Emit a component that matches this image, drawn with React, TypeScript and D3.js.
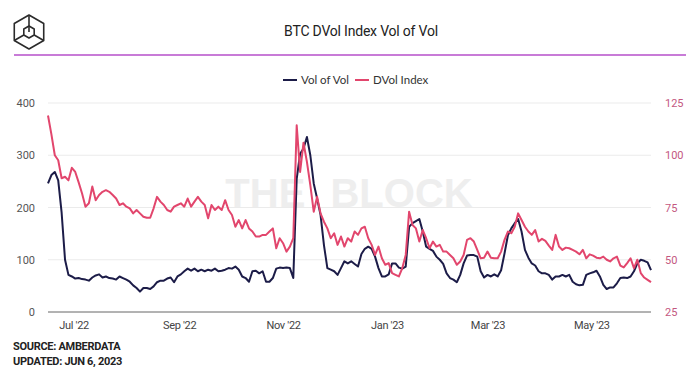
import React, { useEffect, useRef } from "react";
import * as d3 from "d3";

// daily-ish samples, every 2 days from Jun 16 2022
const startDate = new Date(2022, 5, 16);
const stepDays = 2;

const volOfVol = [
  246, 262, 268, 252, 190, 100, 71, 68, 64, 65, 63, 62, 60, 66, 70, 72, 66, 68, 65, 64,
  62, 68, 65, 62, 58, 51, 46, 39, 46, 46, 44, 49, 57, 60, 60, 64, 66, 57, 68, 72,
  78, 83, 79, 83, 78,
  81, 78, 81, 79, 83, 78, 79, 81, 84, 83, 87, 81, 68, 65, 58, 78, 79, 74, 78, 58,
  58, 65, 83, 85, 84, 85, 84, 65, 255, 303, 313, 335, 300, 246, 217, 186, 128, 84, 81, 78,
  71, 84, 97, 93,
  97, 92, 87, 111, 121, 125, 121, 106, 84, 68, 68, 72, 93, 93, 85, 83, 87, 163, 170, 174,
  178, 154, 125, 121, 117, 106, 100, 92, 74, 65, 62, 57, 71, 93, 108, 109, 109, 106, 78, 66,
  71, 68, 72, 68, 80,
  112, 147, 160, 170, 178, 154, 119, 104, 93, 89, 78, 74, 74, 71, 62, 68, 68, 71, 68, 71,
  58, 53, 51, 52, 71, 74, 76, 79, 68, 52, 44, 47, 47, 55, 65, 66, 65, 68, 78, 93,
  100, 98, 95, 80,
];

const dvolIndex = [
  119, 110, 100, 97.6, 89, 89.7, 88, 94, 92, 87, 81.7, 75.4, 77, 85, 78.5, 81, 82.5, 83.3, 82.5, 81,
  79.3, 76.2, 77, 75.4, 74.6, 72.2, 73.8, 72.2, 70.6, 70.1, 70.1, 74.6, 80.1, 77.8, 76.2, 73.8, 73, 75.4, 76.2, 77,
  75.4, 79.3, 75.4, 77.8, 80.1,
  77.8, 76.2, 69.8, 76.2, 73.8, 75.4, 73.8, 78.5, 73.8, 71.4, 65.8, 69, 65, 69, 65, 63.5, 61.1, 61.1, 61.9, 61.9,
  63.5, 65, 55.5, 60.3, 57.9, 53.9, 56.3, 60.3, 114.3, 92, 106, 96.8, 85.7, 73, 80.1, 72.2, 68.2, 65, 60.3, 62.7,
  57.1, 61.1, 56.3, 60.3,
  58.7, 63.5, 61.9, 65, 65.8, 60.3, 57.1, 52.3, 56.3, 50.7, 47.6, 48.4, 43.6, 42.8, 42, 46, 52.3, 73, 66.6, 65,
  58.7, 64.2, 60.3, 55.5, 58.7, 56.3, 57.1, 53.9, 53.9, 52.3, 50.7, 47.6, 49.2, 52.3, 59.5, 60.3, 58.7, 54.7, 50.7, 51,
  53.9, 51, 50.7, 50.7, 53.9,
  59.5, 63.5, 62.7, 65.8, 72.2, 69, 65.8, 63.5, 61.9, 64.2, 58.7, 60, 59, 56.8, 54.7, 61.9, 56.3, 54.7, 55.8, 55.5,
  54.7, 53.9, 52.6, 54.7, 50.7, 52.6, 52, 51, 50.7, 51.5, 50, 49.2, 50.7, 51.5, 47.2, 46.3, 48.4, 50.7, 46, 50,
  43.6, 41.5, 40.4, 39.3,
];

const leftTicks = [0, 100, 200, 300, 400];
const rightTicks = [25, 50, 75, 100, 125];
const xTickDates = [
  new Date(2022, 6, 1),
  new Date(2022, 8, 1),
  new Date(2022, 10, 1),
  new Date(2023, 0, 1),
  new Date(2023, 2, 1),
  new Date(2023, 4, 1),
];
const xTickLabels = ["Jul '22", "Sep '22", "Nov '22", "Jan '23", "Mar '23", "May '23"];

const NAVY = "#1c1c48";
const PINK = "#e2466d";

const App = () => {
  const svgRef = useRef(null);

  useEffect(() => {
    const svg = d3.select(svgRef.current);
    const width = 700;
    const height = 367;
    const margin = { top: 103, right: 49, bottom: 55, left: 48 };

    svg.selectAll("*").remove();

    const dates = volOfVol.map((_, i) => d3.timeDay.offset(startDate, i * stepDays));

    const x = d3.scaleTime()
      .domain([dates[0], dates[dates.length - 1]])
      .range([margin.left, width - margin.right]);

    const yLeft = d3.scaleLinear()
      .domain([0, 400])
      .range([height - margin.bottom, margin.top]);

    const yRight = d3.scaleLinear()
      .domain([25, 125])
      .range([height - margin.bottom, margin.top]);

    svg.append("rect").attr("width", width).attr("height", height).attr("fill", "#fff");

    // logo
    const cx = 29, cy = 32, R = 17, r = 6;
    const hex = (rad) => d3.range(6).map(k => {
      const a = (Math.PI / 3) * k - Math.PI / 2;
      return [cx + rad * Math.cos(a), cy + rad * Math.sin(a)];
    });
    const outer = hex(R), inner = hex(r);
    const logo = svg.append("g").attr("fill", "none").attr("stroke", "#2b2b2b").attr("stroke-width", 1.6)
      .attr("stroke-linejoin", "round");
    logo.append("path").attr("d", "M" + outer.join("L") + "Z");
    logo.append("path").attr("d", "M" + inner.join("L") + "Z");
    outer.forEach((p, k) => {
      if (k % 2 === 0) logo.append("line")
        .attr("x1", p[0]).attr("y1", p[1]).attr("x2", inner[k][0]).attr("y2", inner[k][1]);
    });
    logo.append("line").attr("x1", inner[0][0]).attr("y1", inner[0][1]).attr("x2", cx).attr("y2", cy);

    // title
    svg.append("text")
      .attr("x", 361).attr("y", 36)
      .attr("text-anchor", "middle")
      .attr("font-family", "Roboto, sans-serif")
      .attr("font-size", 14)
      .attr("letter-spacing", -0.2)
      .attr("fill", "#222")
      .text("BTC DVol Index Vol of Vol");

    svg.append("line")
      .attr("x1", 14).attr("x2", 686).attr("y1", 55).attr("y2", 55)
      .attr("stroke", "#b64fca").attr("stroke-width", 1.5);

    // legend
    const legend = [
      { name: "Vol of Vol", color: NAVY, x: 283 },
      { name: "DVol Index", color: PINK, x: 355 },
    ];
    legend.forEach(l => {
      svg.append("line")
        .attr("x1", l.x).attr("x2", l.x + 14).attr("y1", 80).attr("y2", 80)
        .attr("stroke", l.color).attr("stroke-width", 2);
      svg.append("text")
        .attr("x", l.x + 18).attr("y", 84)
        .attr("font-family", "Lato, sans-serif")
        .attr("font-size", 11.5)
        .attr("fill", "#333")
        .text(l.name);
    });

    // watermark
    svg.append("text")
      .attr("x", 349).attr("y", 207)
      .attr("text-anchor", "middle")
      .attr("font-family", "'Liberation Sans', Arial, sans-serif")
      .attr("font-weight", "bold")
      .attr("font-size", 40)
      .attr("word-spacing", 14)
      .attr("fill", "#eeeeee")
      .text("THE BLOCK");

    // grid
    svg.append("g")
      .selectAll("line")
      .data(leftTicks.filter(t => t > 0))
      .join("line")
      .attr("x1", margin.left).attr("x2", width - margin.right)
      .attr("y1", d => yLeft(d)).attr("y2", d => yLeft(d))
      .attr("stroke", "#ebebeb").attr("stroke-width", 1);

    // left axis
    const gl = svg.append("g")
      .attr("transform", `translate(${margin.left}, 0)`)
      .call(d3.axisLeft(yLeft).tickValues(leftTicks).tickSize(0).tickPadding(13));
    gl.select(".domain").remove();
    gl.selectAll("text")
      .attr("font-family", "Roboto, sans-serif").attr("font-size", 11).attr("fill", "#555");

    // right axis
    const gr = svg.append("g")
      .attr("transform", `translate(${width - margin.right}, 0)`)
      .call(d3.axisRight(yRight).tickValues(rightTicks).tickSize(0).tickPadding(14));
    gr.select(".domain").remove();
    gr.selectAll("text")
      .attr("font-family", "Roboto, sans-serif").attr("font-size", 11).attr("fill", "#c4587f");

    // x axis
    const gx = svg.append("g")
      .attr("transform", `translate(0, ${height - margin.bottom})`)
      .call(d3.axisBottom(x).tickValues(xTickDates).tickFormat((_, i) => xTickLabels[i]).tickSize(0).tickPadding(9));
    gx.select(".domain").remove();
    gx.selectAll("text")
      .attr("font-family", "Roboto, sans-serif").attr("font-size", 11).attr("letter-spacing", -0.3).attr("fill", "#444");

    svg.append("line")
      .attr("x1", margin.left).attr("x2", width - margin.right)
      .attr("y1", yLeft(0)).attr("y2", yLeft(0))
      .attr("stroke", "#666").attr("stroke-width", 1);

    // lines
    const volLine = d3.line()
      .x((_, i) => x(dates[i]))
      .y(d => yLeft(d));
    const dvolLine = d3.line()
      .x((_, i) => x(dates[i]))
      .y(d => yRight(d));

    svg.append("path")
      .datum(volOfVol)
      .attr("d", volLine)
      .attr("fill", "none")
      .attr("stroke", NAVY)
      .attr("stroke-width", 2)
      .attr("stroke-linejoin", "round");

    svg.append("path")
      .datum(dvolIndex)
      .attr("d", dvolLine)
      .attr("fill", "none")
      .attr("stroke", PINK)
      .attr("stroke-width", 2)
      .attr("stroke-linejoin", "round");

    // footer
    ["SOURCE: AMBERDATA", "UPDATED: JUN 6, 2023"].forEach((t, i) => {
      svg.append("text")
        .attr("x", 13).attr("y", 350 + i * 15)
        .attr("font-family", "Roboto, sans-serif")
        .attr("font-weight", "bold")
        .attr("font-size", 11)
        .attr("letter-spacing", -0.3)
        .attr("fill", "#222")
        .text(t);
    });
  }, []);

  return (
    <div style={{ position: "absolute", left: 0, top: 0 }}>
      <svg ref={svgRef} width={700} height={367} style={{ display: "block" }} />
    </div>
  );
};

export default App;
